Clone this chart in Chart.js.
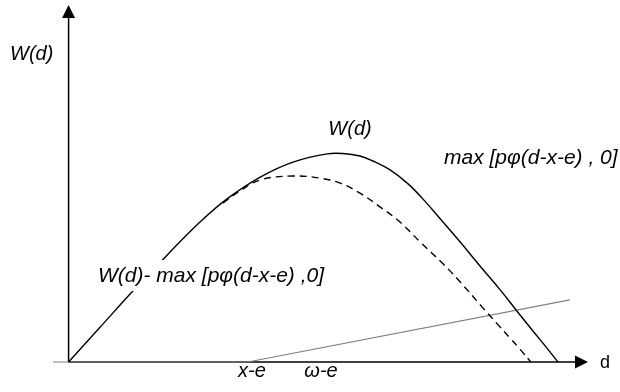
<!DOCTYPE html>
<html>
<head>
<meta charset="utf-8">
<script src="https://cdn.jsdelivr.net/npm/chart.js@4"></script>
<style>
  body { margin: 0; background: #fff; }
  canvas { display: block; }
</style>
</head>
<body>
<canvas id="chart" width="620" height="392"></canvas>
<script>
// curva W(d) (d, W)
const wX = [0, 6.1, 12.2, 19.0, 25.3, 30.5, 36.9, 43.2, 49.8, 52.8, 56.1, 58.6, 61.9, 65.2, 68.2, 71.5, 75.4, 79.2, 83.1, 86.3, 89.4, 92.1, 94.2];
const wY = [0, 9.8, 19.6, 30.0, 39.2, 45.7, 51.8, 56.0, 58.3, 58.4, 57.7, 56.3, 53.8, 50.1, 45.7, 40.2, 33.6, 26.9, 20.2, 14.3, 8.7, 3.9, 0];

// curva tracejada W(d) - max[...]
const dashX = [29.7, 33.0, 36.9, 43.2, 48.4, 52.3, 56.1, 60.0, 63.8, 67.7, 72.1, 75.4, 79.8, 82.7, 85.0, 86.9, 89.0];
const dashY = [44.5, 47.9, 51.0, 52.1, 51.5, 50.1, 47.3, 43.4, 39.2, 33.6, 27.5, 22.4, 15.1, 10.4, 6.7, 3.6, 0];

// max[pφ(d-x-e), 0]
const lineX = [-3, 34.5, 96.5];
const lineY = [0, 0, 17.4];

// rótulos do eixo d
const tickLabels = ['x-e', 'ω-e'];
const tickPos = [35.3, 48.6];

const toPts = (xs, ys) => xs.map((x, i) => ({ x: x, y: ys[i] }));
const FONT = '"Liberation Sans", Arial, sans-serif';

const eixos = {
    id: 'eixos',
    beforeDatasetsDraw(chart) {
        const { ctx, scales } = chart;
        const x0 = scales.x.getPixelForValue(0);
        const y0 = scales.y.getPixelForValue(0);
        const top = scales.y.getPixelForValue(100);
        const right = scales.x.getPixelForValue(100);
        ctx.save();
        ctx.strokeStyle = '#000';
        ctx.fillStyle = '#000';
        ctx.lineWidth = 1.5;
        ctx.beginPath();
        ctx.moveTo(x0, y0);
        ctx.lineTo(x0, top + 12);
        ctx.moveTo(x0, y0);
        ctx.lineTo(right - 12, y0);
        ctx.stroke();
        // setas
        ctx.beginPath();
        ctx.moveTo(x0, top);
        ctx.lineTo(x0 - 6.5, top + 13);
        ctx.lineTo(x0 + 6.5, top + 13);
        ctx.closePath();
        ctx.fill();
        ctx.beginPath();
        ctx.moveTo(right, y0);
        ctx.lineTo(right - 13, y0 - 6.5);
        ctx.lineTo(right - 13, y0 + 6.5);
        ctx.closePath();
        ctx.fill();
        ctx.restore();
    },
    afterDatasetsDraw(chart) {
        const { ctx, scales } = chart;
        const y0 = scales.y.getPixelForValue(0);
        ctx.save();
        ctx.fillStyle = '#fff';
        ctx.fillRect(96, 260, 232, 31);
        ctx.fillStyle = '#000';
        ctx.textBaseline = 'alphabetic';
        ctx.font = 'italic 20px ' + FONT;
        ctx.textAlign = 'left';
        ctx.fillText('W(d)', 10, 60);
        ctx.textAlign = 'center';
        ctx.fillText('W(d)', 350, 135);
        ctx.font = 'italic 21px ' + FONT;
        ctx.textAlign = 'left';
        ctx.fillText('W(d)- max [pφ(d-x-e) ,0]', 98, 282);
        ctx.fillText('max [pφ(d-x-e) , 0]', 444, 164);
        ctx.font = 'italic 20px ' + FONT;
        ctx.textAlign = 'center';
        tickLabels.forEach((t, i) => {
            ctx.fillText(t, scales.x.getPixelForValue(tickPos[i]), y0 + 15);
        });
        ctx.font = '18px ' + FONT;
        ctx.textAlign = 'left';
        ctx.fillText('d', 600, y0 + 6);
        ctx.restore();
    }
};

new Chart(document.getElementById('chart').getContext('2d'), {
    type: 'scatter',
    data: {
        datasets: [{
            data: toPts(wX, wY),
            showLine: true,
            borderColor: '#000',
            borderWidth: 1.4,
            pointRadius: 0,
            tension: 0.4,
            clip: false
        }, {
            data: toPts(dashX, dashY),
            showLine: true,
            borderColor: '#000',
            borderWidth: 1.4,
            borderDash: [7, 5],
            pointRadius: 0,
            tension: 0.4,
            clip: false
        }, {
            data: toPts(lineX, lineY),
            showLine: true,
            borderColor: '#808080',
            borderWidth: 1.2,
            pointRadius: 0,
            tension: 0,
            clip: false
        }]
    },
    options: {
        responsive: false,
        animation: false,
        layout: { padding: { left: 53, right: 32, top: 5, bottom: 30 } },
        plugins: { legend: { display: false }, tooltip: { enabled: false } },
        scales: {
            x: { type: 'linear', min: -3, max: 100, display: false },
            y: { type: 'linear', min: 0, max: 100, display: false }
        }
    },
    plugins: [eixos]
});
</script>
</body>
</html>
